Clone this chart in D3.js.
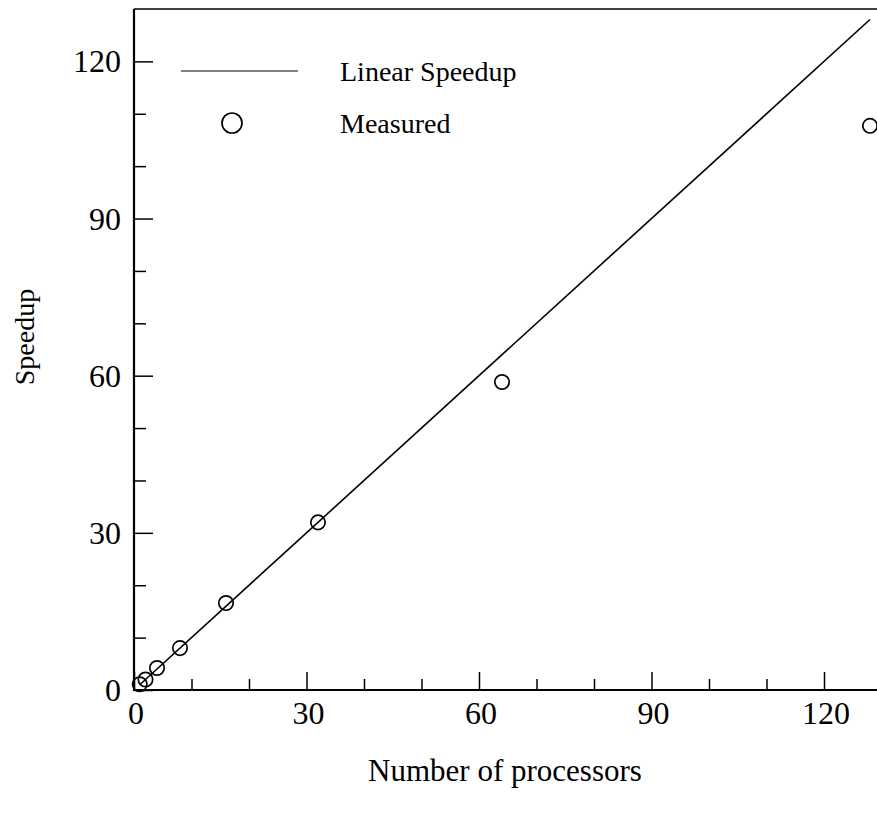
<!DOCTYPE html>
<html>
<head>
<meta charset="utf-8">
<script src="https://cdn.jsdelivr.net/npm/d3@7"></script>
<style>
  html, body { margin: 0; padding: 0; background: #fff; overflow: hidden; }
  svg text { font-family: "Liberation Serif", "DejaVu Serif", serif; fill: #000; }
</style>
</head>
<body>
<svg id="chart" width="877" height="818"></svg>
<script>
// Processor counts and measured speedups
const processors = [1, 2, 4, 8, 16, 32, 64, 128];
const measuredSpeedup = [1.1, 2.0, 4.2, 8.0, 16.6, 32.0, 58.8, 107.7];
// Ideal linear speedup endpoints
const linearX = [1, 128];
const linearY = [1, 128];
// Axis ticks
const xMajorTicks = [0, 30, 60, 90, 120];
const xMinorTicks = [10, 20, 40, 50, 70, 80, 100, 110];
const yMajorTicks = [0, 30, 60, 90, 120];
const yMinorTicks = [10, 20, 40, 50, 70, 80, 100, 110];
const legendLabels = ["Linear Speedup", "Measured"];

const svg = d3.select("#chart");
const plotLeft = 134, plotBottom = 690, plotTop = 9;

const x = d3.scaleLinear().domain([0, 130]).range([plotLeft, plotLeft + 130 * 5.75]);
const y = d3.scaleLinear().domain([0, 130]).range([plotBottom, plotTop]);

// Top frame line
svg.append("line")
  .attr("x1", plotLeft).attr("x2", 887)
  .attr("y1", y(130)).attr("y2", y(130))
  .attr("stroke", "#000").attr("stroke-width", 1.5);

// X axis with inward ticks
const gx = svg.append("g").attr("transform", `translate(0,${plotBottom})`);
gx.call(d3.axisTop(x).tickValues(xMinorTicks).tickSize(11).tickFormat(""));
gx.call(g => g.append("g").call(d3.axisTop(x).tickValues(xMajorTicks).tickSize(18).tickFormat("")));
gx.selectAll(".domain").remove();
gx.selectAll(".tick line").attr("stroke", "#000").attr("stroke-width", 1.5);
gx.append("line").attr("x1", plotLeft).attr("x2", 887).attr("stroke", "#000").attr("stroke-width", 2.2);
gx.selectAll(".xlab").data(xMajorTicks).enter().append("text")
  .attr("class", "xlab")
  .attr("x", d => x(d) + 2).attr("y", 34)
  .attr("text-anchor", "middle")
  .style("font-size", "32px")
  .text(d => d);

// Y axis with inward ticks
const gy = svg.append("g").attr("transform", `translate(${plotLeft},0)`);
gy.call(d3.axisRight(y).tickValues(yMinorTicks).tickSize(12).tickFormat(""));
gy.call(g => g.append("g").call(d3.axisRight(y).tickValues(yMajorTicks).tickSize(19).tickFormat("")));
gy.selectAll(".domain").remove();
gy.selectAll(".tick line").attr("stroke", "#000").attr("stroke-width", 1.5);
gy.append("line").attr("y1", plotTop).attr("y2", plotBottom + 1).attr("stroke", "#000").attr("stroke-width", 2.2);
gy.selectAll(".ylab").data(yMajorTicks).enter().append("text")
  .attr("class", "ylab")
  .attr("x", -13).attr("y", d => y(d) + 11)
  .attr("text-anchor", "end")
  .style("font-size", "32px")
  .text(d => d);

// Linear speedup line
const lineData = linearX.map((v, i) => [v, linearY[i]]);
svg.append("path")
  .datum(lineData)
  .attr("fill", "none").attr("stroke", "#000").attr("stroke-width", 1.6)
  .attr("d", d3.line().x(d => x(d[0])).y(d => y(d[1])));

// Measured points
svg.selectAll(".pt").data(processors).enter().append("circle")
  .attr("class", "pt")
  .attr("cx", d => x(d))
  .attr("cy", (d, i) => y(measuredSpeedup[i]))
  .attr("r", 7.2)
  .attr("fill", "none").attr("stroke", "#000").attr("stroke-width", 1.7);

// Legend
svg.append("line")
  .attr("x1", 181).attr("x2", 298).attr("y1", 71).attr("y2", 71)
  .attr("stroke", "#000").attr("stroke-width", 1.2);
svg.append("circle")
  .attr("cx", 232).attr("cy", 123).attr("r", 10)
  .attr("fill", "none").attr("stroke", "#000").attr("stroke-width", 1.7);
svg.selectAll(".leg").data(legendLabels).enter().append("text")
  .attr("class", "leg")
  .attr("x", 340).attr("y", (d, i) => 81 + i * 52)
  .style("font-size", "28px")
  .text(d => d);

// Axis titles
svg.append("text")
  .attr("x", 505).attr("y", 781)
  .attr("text-anchor", "middle")
  .style("font-size", "31px")
  .text("Number of processors");
svg.append("text")
  .attr("transform", "translate(34,337) rotate(-90)")
  .attr("text-anchor", "middle")
  .style("font-size", "28px")
  .text("Speedup");
</script>
</body>
</html>
